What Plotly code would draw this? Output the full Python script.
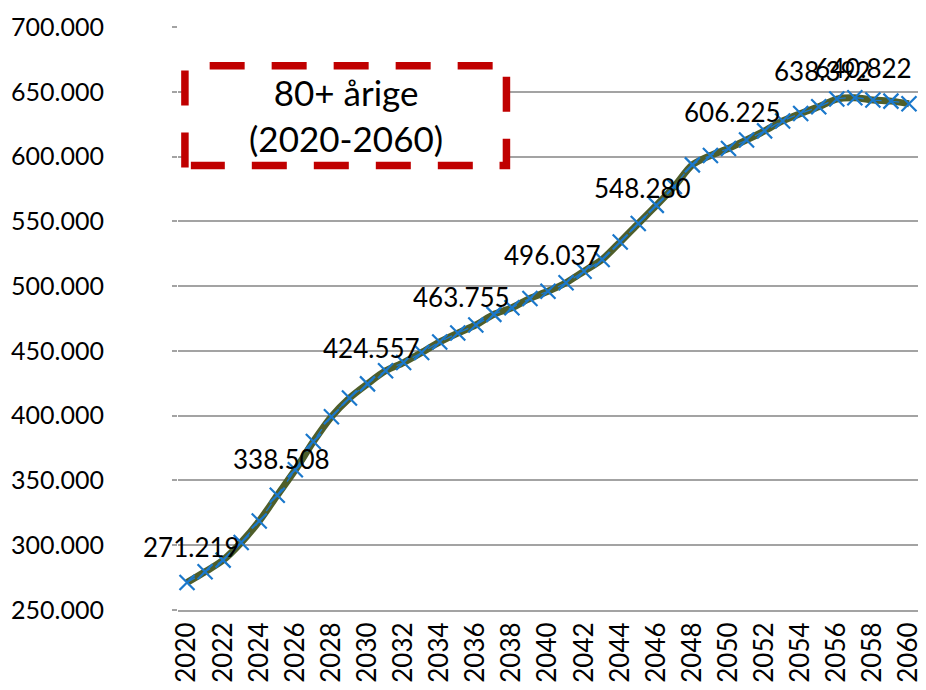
import plotly.graph_objects as go

# ---- data ----
years = list(range(2020, 2061))
values = [271219, 279500, 288500, 302100, 318700, 338508, 358200, 380000, 399200, 413600,
          424557, 434600, 441000, 448700, 456900, 463755, 470000, 478200, 483300, 490500,
          496037, 502600, 511500, 520500, 534100, 548280, 562300, 576900, 593600, 600800,
          606225, 612800, 619800, 627500, 633300, 638392, 644400, 645400, 643600, 642800,
          640822]
label_years = [2020, 2025, 2030, 2035, 2040, 2045, 2050, 2055, 2060]
x_ticks = list(range(2020, 2061, 2))
y_ticks = [250000, 300000, 350000, 400000, 450000, 500000, 550000, 600000, 650000, 700000]
box_text = "80+ årige<br>(2020-2060)"

# ---- layout geometry (screen pixels; page has an 8px body margin) ----
OFF = 8
SW, SH = 926, 690
W, H = SW - OFF, SH - OFF
L, R, T, B = 175, 923, 25, 610


def px(x):
    return (x - L) / (R - L)


def py(y):
    return (B - y) / (B - T)


def fmt(v):
    return f"{v:,}".replace(",", ".")


OLIVE = "#4F5E2A"
BLUE = "#1A78CC"
RED = "#C00000"
GRID = "#A3A3A3"
FONT = "Lato"

fig = go.Figure()
fig.add_trace(go.Scatter(x=years, y=values, mode="lines",
                         line=dict(color=OLIVE, width=7, shape="spline", smoothing=0.8),
                         hoverinfo="skip", showlegend=False))
fig.add_trace(go.Scatter(x=years, y=values, mode="lines+markers",
                         line=dict(color=BLUE, width=1.3, dash="dash", shape="spline", smoothing=0.8),
                         marker=dict(symbol="x-thin", size=15, line=dict(color=BLUE, width=2.2)),
                         showlegend=False))

annotations = []
for yr in label_years:
    v = values[years.index(yr)]
    last = yr == years[-1]
    annotations.append(dict(x=yr, y=v, xref="x", yref="y", text=fmt(v), showarrow=False,
                            xanchor="right" if last else "center", yanchor="middle",
                            xshift=5 if last else 4, yshift=36,
                            font=dict(family=FONT, size=26, color="black")))

annotations.append(dict(x=px(344.5), y=py(113), xref="paper", yref="paper", text=box_text,
                        showarrow=False, xanchor="center", yanchor="middle",
                        font=dict(family=FONT, size=35, color="black")))

dash = "35px,27px"
lw = 7.5
shapes = [
    dict(type="rect", xref="paper", yref="paper", x0=px(182), x1=px(507), y0=py(164), y1=py(64),
         fillcolor="white", line=dict(width=0), layer="above"),
    dict(type="path", xref="paper", yref="paper", path=f"M {px(207)},{py(64)} L {px(500)},{py(64)}",
         line=dict(color=RED, width=lw, dash=dash), layer="above"),
    dict(type="path", xref="paper", yref="paper",
         path=f"M {px(507)},{py(75)} L {px(507)},{py(164)} L {px(500)},{py(164)}",
         line=dict(color=RED, width=lw, dash=dash), layer="above"),
    dict(type="path", xref="paper", yref="paper", path=f"M {px(473)},{py(164)} L {px(188)},{py(164)}",
         line=dict(color=RED, width=lw, dash=dash), layer="above"),
    dict(type="path", xref="paper", yref="paper", path=f"M {px(182)},{py(166)} L {px(182)},{py(66)}",
         line=dict(color=RED, width=lw, dash=dash), layer="above"),
]

fig.update_layout(
    width=W, height=H,
    margin=dict(l=L - OFF, r=SW - R, t=T - OFF, b=SH - B, pad=0),
    paper_bgcolor="white", plot_bgcolor="white",
    separators=",.",
    font=dict(family=FONT, size=26, color="black"),
    annotations=annotations, shapes=shapes,
    showlegend=False,
)
fig.update_xaxes(range=[2019.5, 2060.5], tickmode="array", tickvals=x_ticks,
                 tickangle=-90, showgrid=False, zeroline=False,
                 showline=True, linecolor=GRID, linewidth=2,
                 ticks="", ticklabelstandoff=0, ticklabeloverflow="allow",
                 tickfont=dict(family=FONT, size=26, color="black"))
fig.update_yaxes(range=[250000, 700000], tickvals=y_ticks, tickformat=",d",
                 showgrid=True, gridcolor=GRID, gridwidth=2, zeroline=False,
                 showline=False, ticks="outside", ticklen=5, tickcolor=GRID, tickwidth=2,
                 ticklabelstandoff=63,
                 tickfont=dict(family=FONT, size=25, color="black"))

fig.write_html("out.html")
